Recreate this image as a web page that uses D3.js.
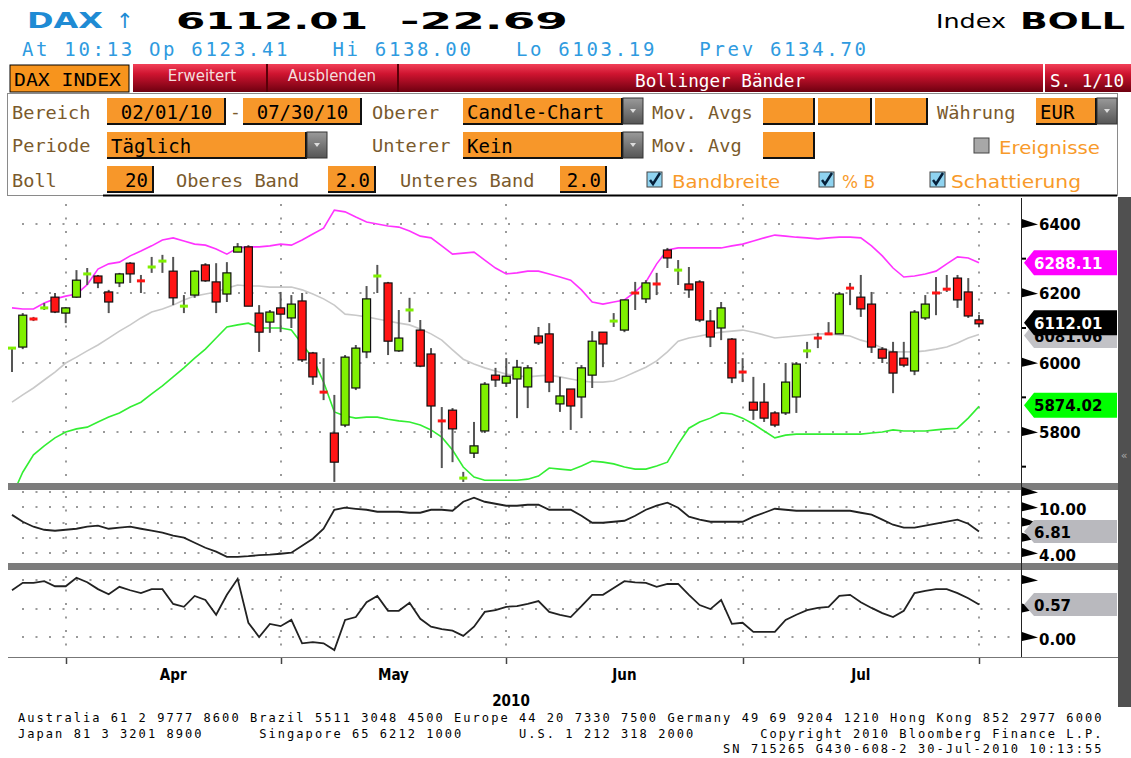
<!DOCTYPE html>
<html lang="de">
<head>
<meta charset="UTF-8">
<title>DAX Index BOLL</title>
<script src="https://d3js.org/d3.v7.min.js"></script>
<style>
    body { margin: 0; background: #ffffff; }
    svg { display: block; }
    text { white-space: pre; }
</style>
</head>
<body>
<svg id="chart" width="1131" height="758"></svg>
<script>
    // trading days 24 Mar - 30 Jul 2010 (Xetra closed on Good Friday / Easter Monday)
    const firstDay = new Date(2010, 2, 24);
    const lastDay = new Date(2010, 6, 30);
    const holidays = ["2010-04-02", "2010-04-05"];

    // daily candles
    const opens = [6041,6045,6128,6156,6189,6143,6189,6255,6250,6204,
        6230,6287,6238,6275,6292,6264,6162,6195,6282,6233,
        6198,6319,6334,6143,6117,6158,6129,6178,6028,5917,
        5797,5820,5927,6031,6249,6230,6034,6151,6094,6025,
        5834,5863,5666,5739,5803,5964,5941,5953,5930,6077,
        6083,5881,5924,5901,5964,6088,6119,6094,6203,6184,
        6229,6325,6266,6227,6233,6120,6100,6068,5975,5886,
        5886,5855,5855,5901,6033,6073,6085,6083,6217,6189,
        6169,6039,6031,6013,5976,6129,6203,6214,6244,6204,
        6123.41];
    const highs = [6045,6143,6132,6172,6201,6160,6267,6273,6253,6210,
        6259,6290,6253,6305,6311,6305,6195,6267,6287,6287,
        6290,6345,6339,6166,6152,6204,6195,6201,6031,6013,
        5907,6022,6051,6221,6282,6233,6152,6187,6123,6042,
        5872,5869,5685,5829,5944,5985,6013,6008,5993,6103,
        6114,5959,5924,5993,6091,6088,6143,6181,6233,6238,
        6259,6331,6296,6276,6238,6152,6175,6071,6013,5959,
        5941,5860,5999,6002,6060,6086,6117,6204,6230,6253,
        6204,6045,6060,6060,6152,6195,6247,6253,6253,6244,
        6138.00];
    const lows = [5973,6039,6120,6152,6143,6114,6187,6224,6215,6143,
        6218,6230,6201,6259,6259,6166,6143,6187,6233,6143,
        6175,6319,6163,6031,6086,6088,6100,6002,5936,5892,
        5656,5814,5921,6013,6201,6022,6031,6117,5987,5783,
        5696,5713,5656,5725,5797,5930,5930,5840,5869,6051,
        5915,5858,5806,5840,5927,5987,6103,6088,6152,6172,
        6195,6273,6224,6187,6117,6045,6065,5941,5944,5835,
        5829,5814,5849,5855,6013,6042,6080,6083,6166,6132,
        6028,5999,5912,5987,5964,6123,6137,6204,6158,6129,
        6103.19];
    const closes = [6043,6137,6124,6160,6146,6158,6238,6257,6230,6175,
        6256,6256,6234,6277,6294,6187,6164,6264,6236,6175,
        6259,6334,6163,6088,6146,6140,6169,6008,5959,5913,
        5713,6016,6042,6184,6251,6062,6071,6153,5990,5875,
        5830,5809,5668,5760,5938,5950,5961,5987,5985,6057,
        5944,5904,5875,5985,6062,6054,6121,6181,6199,6230,
        6225,6302,6268,6210,6123,6074,6158,5956,5971,5863,
        5840,5820,5944,5996,6035,6069,6081,6198,6213,6155,
        6045,6013,5970,5993,6146,6169,6199,6210,6181,6134.70,
        6112.01];

    // Bollinger bands (20, 2.0)
    const upperBand = [6158,6155,6155,6172,6184,6192,6198,6225,6270,6285,
        6290,6308,6322,6337,6354,6360,6351,6342,6339,6328,
        6313,6331,6334,6334,6337,6342,6339,6354,6371,6388,
        6440,6435,6420,6406,6400,6394,6391,6380,6365,6360,
        6337,6313,6316,6319,6296,6273,6256,6259,6264,6264,
        6256,6247,6238,6210,6175,6169,6175,6181,6204,6233,
        6285,6325,6331,6331,6331,6331,6331,6337,6342,6351,
        6360,6368,6365,6362,6360,6357,6360,6362,6362,6360,
        6337,6308,6273,6247,6250,6256,6264,6285,6305,6302,
        6288.11];
    const middleBand = [5886,5907,5927,5950,5973,5999,6016,6034,6051,6071,
        6091,6109,6129,6146,6155,6166,6181,6192,6198,6204,
        6215,6224,6221,6221,6218,6218,6218,6210,6198,6184,
        6166,6140,6137,6132,6126,6120,6114,6109,6097,6083,
        6065,6037,6010,5996,5985,5976,5967,5962,5959,5962,
        5964,5959,5953,5947,5944,5944,5947,5959,5973,5987,
        6005,6031,6062,6071,6077,6083,6088,6091,6094,6088,
        6080,6071,6074,6077,6080,6083,6083,6080,6077,6065,
        6057,6042,6031,6031,6031,6034,6039,6045,6057,6071,
        6081.06];
    const lowerBand = [5615,5684,5734,5760,5783,5800,5809,5814,5829,5843,
        5855,5872,5886,5910,5933,5959,5985,6013,6039,6071,
        6103,6109,6114,6100,6100,6100,6094,6054,6013,5944,
        5858,5846,5840,5843,5843,5837,5832,5829,5820,5806,
        5785,5748,5699,5670,5661,5661,5661,5661,5664,5673,
        5696,5693,5690,5702,5716,5713,5708,5699,5693,5693,
        5702,5713,5765,5811,5829,5840,5855,5852,5840,5823,
        5803,5783,5791,5794,5794,5794,5794,5794,5794,5794,
        5797,5800,5806,5803,5803,5803,5806,5809,5811,5840,
        5874.02];

    // lower panels
    const bandWidth = [9.0,8.1,7.45,7.05,6.92,7.05,7.18,7.45,7.58,7.18,
        7.32,7.45,7.18,6.92,6.66,6.27,6.01,5.35,4.69,4.17,
        3.5,3.5,3.58,3.71,3.78,3.9,4.04,4.96,5.87,7.18,
        9.67,9.94,9.8,9.67,9.41,9.41,9.41,9.28,9.28,9.67,
        9.67,9.54,10.72,11.25,10.72,10.46,10.2,10.2,10.33,10.33,
        9.67,9.67,9.67,8.89,7.97,7.97,8.1,8.23,8.89,9.67,
        10.2,10.59,9.94,8.76,8.37,8.1,8.1,8.1,8.1,8.76,
        9.28,9.8,9.67,9.54,9.54,9.54,9.54,9.54,9.54,9.28,
        9.02,8.37,7.71,7.32,7.32,7.58,7.84,8.1,8.37,7.84,
        6.81];
    const percentB = [0.82,0.95,0.95,0.98,0.89,0.89,1.04,0.96,0.84,0.75,
        0.88,0.82,0.77,0.84,0.84,0.58,0.53,0.72,0.65,0.39,
        0.74,1.02,0.25,0.0,0.23,0.19,0.3,-0.11,-0.09,-0.11,
        -0.23,0.3,0.35,0.61,0.72,0.46,0.46,0.6,0.32,0.18,
        0.14,0.11,0.02,0.18,0.44,0.47,0.53,0.54,0.58,0.63,
        0.44,0.39,0.35,0.54,0.74,0.74,0.86,0.98,0.96,0.95,
        0.88,0.93,0.93,0.74,0.56,0.49,0.65,0.23,0.25,0.09,
        0.09,0.09,0.3,0.39,0.47,0.51,0.53,0.72,0.74,0.61,
        0.51,0.42,0.35,0.46,0.77,0.81,0.84,0.84,0.77,0.68,
        0.57];

    const priceTicks = [5800, 6000, 6200, 6400];
    const priceMinor = [5700, 5900, 6100, 6300];
    const bwTicks = [4, 6, 8, 10, 12];
    const bwLabels = [4, 10];
    const pbTicks = [0, 0.5, 1];
    const pbLabels = [0];
    const monthNames = ["Apr", "May", "Jun", "Jul"];
    const yearLabel = "2010";

    const mono = "'DejaVu Sans Mono', monospace";
    const sans = "'DejaVu Sans', sans-serif";
    const fmtDay = d3.timeFormat("%Y-%m-%d");

    const days = d3.timeDay.range(firstDay, d3.timeDay.offset(lastDay, 1))
        .filter(d => d.getDay() % 6 !== 0 && !holidays.includes(fmtDay(d)));
    const candles = days.map((d, i) => ({
        day: d, o: opens[i], h: highs[i], l: lows[i], c: closes[i]
    }));

    const svg = d3.select("#chart");
    const defs = svg.append("defs");

    // scales
    const x = d3.scalePoint().domain(days).range([12, 979]);
    const yMain = d3.scaleLinear().domain([5800, 6400]).range([432, 224]);
    const yBW = d3.scaleLinear().domain([4, 12]).range([553, 492]);
    const yPB = d3.scaleLinear().domain([0, 1]).range([637, 580]);

    function txt(g, xx, yy, s, o) {
        const t = g.append("text").attr("x", xx).attr("y", yy).text(s)
            .attr("font-family", o.family || mono)
            .attr("font-size", o.size || 18)
            .attr("fill", o.fill || "#000");
        if (o.bold) t.attr("font-weight", "bold");
        if (o.len) t.attr("textLength", o.len).attr("lengthAdjust", o.adjust || "spacingAndGlyphs");
        if (o.anchor) t.attr("text-anchor", o.anchor);
        return t;
    }

    // ---- header ----
    const head = svg.append("g");
    txt(head, 27, 28, "DAX", {family: sans, size: 21, bold: true, fill: "#1f8bd4", len: 76});
    txt(head, 116, 28, "\u2191", {family: sans, size: 21, fill: "#1f8bd4"});
    txt(head, 176, 29, "6112.01", {family: sans, size: 23, bold: true, len: 192});
    txt(head, 400, 29, "-22.69", {family: sans, size: 23, bold: true, len: 168});
    txt(head, 936, 28, "Index", {family: sans, size: 20, len: 70});
    txt(head, 1020, 29, "BOLL", {family: sans, size: 23, bold: true, len: 105});
    txt(head, 22, 56, "At 10:13 Op 6123.41   Hi 6138.00   Lo 6103.19   Prev 6134.70",
        {size: 19, fill: "#2f9be0", len: 844, adjust: "spacing"});

    // ---- tab bar ----
    const red = defs.append("linearGradient").attr("id", "redbar")
        .attr("x1", 0).attr("y1", 0).attr("x2", 0).attr("y2", 1);
    red.append("stop").attr("offset", "0%").attr("stop-color", "#f24058");
    red.append("stop").attr("offset", "35%").attr("stop-color", "#cf1430");
    red.append("stop").attr("offset", "100%").attr("stop-color", "#6e0010");
    const grey = defs.append("linearGradient").attr("id", "btn")
        .attr("x1", 0).attr("y1", 0).attr("x2", 0).attr("y2", 1);
    grey.append("stop").attr("offset", "0%").attr("stop-color", "#9a9a9a");
    grey.append("stop").attr("offset", "100%").attr("stop-color", "#555");

    const tabs = svg.append("g");
    tabs.append("rect").attr("x", 133).attr("y", 64).attr("width", 998).attr("height", 28).attr("fill", "url(#redbar)");
    [267, 398].forEach(v => tabs.append("line").attr("x1", v).attr("x2", v).attr("y1", 64).attr("y2", 92)
        .attr("stroke", "#5a0008").attr("stroke-width", 2));
    tabs.append("line").attr("x1", 1044).attr("x2", 1044).attr("y1", 64).attr("y2", 92)
        .attr("stroke", "#fff").attr("stroke-width", 2);
    tabs.append("rect").attr("x", 10).attr("y", 65).attr("width", 119).attr("height", 27)
        .attr("fill", "#f7941d").attr("stroke", "#000").attr("stroke-width", 1);
    txt(tabs, 14, 86, "DAX INDEX", {size: 18, len: 107});
    txt(tabs, 202, 81, "Erweitert", {family: sans, size: 15, fill: "#f4dede", anchor: "middle"});
    txt(tabs, 332, 81, "Ausblenden", {family: sans, size: 15, fill: "#f4dede", anchor: "middle"});
    txt(tabs, 720, 87, "Bollinger B\u00e4nder", {size: 18, fill: "#fff", anchor: "middle", len: 170});
    txt(tabs, 1050, 87, "S. 1/10", {size: 18, fill: "#fff", len: 74});

    // ---- settings panel ----
    const panel = svg.append("g");
    const labCol = "#7a5a2c";
    const orange = "#f89a2a";
    const boxOrange = "#f7972a";
    panel.append("rect").attr("x", 7.5).attr("y", 93.5).attr("width", 1110).attr("height", 102)
        .attr("fill", "#fff").attr("stroke", "#8a8a8a");
    panel.append("line").attr("x1", 103).attr("x2", 1117).attr("y1", 195.5).attr("y2", 195.5)
        .attr("stroke", "#000").attr("stroke-width", 2);

    function box(bx, by, w, s, align) {
        panel.append("rect").attr("x", bx).attr("y", by).attr("width", w).attr("height", 26).attr("fill", boxOrange);
        panel.append("path").attr("d", `M${bx + w - 1},${by} V${by + 26} H${bx}`)
            .attr("fill", "none").attr("stroke", "#111").attr("stroke-width", 2);
        if (s) {
            if (align === "right") txt(panel, bx + w - 6, by + 21, s, {size: 19, anchor: "end"});
            else if (align === "center") txt(panel, bx + w / 2, by + 21, s, {size: 19, anchor: "middle"});
            else txt(panel, bx + 4, by + 21, s, {size: 19});
        }
    }
    function dropBtn(bx, by) {
        panel.append("rect").attr("x", bx).attr("y", by).attr("width", 20).attr("height", 26)
            .attr("fill", "url(#btn)").attr("stroke", "#333");
        panel.append("path").attr("d", `M${bx + 7},${by + 11} h6 l-3,4 z`).attr("fill", "#ddd");
    }
    function check(bx, by, on) {
        panel.append("rect").attr("x", bx).attr("y", by).attr("width", 15).attr("height", 15)
            .attr("fill", on ? "#8fd3f0" : "#a8a8a8").attr("stroke", "#444");
        if (on) panel.append("path").attr("d", `M${bx + 3},${by + 8} L${bx + 6},${by + 12} L${bx + 13},${by + 1}`)
            .attr("fill", "none").attr("stroke", "#06203a").attr("stroke-width", 2.5);
    }
    const lab = (lx, ly, s) => txt(panel, lx, ly, s, {size: 18.5, fill: labCol, len: s.length * 11.2});

    // row 1
    lab(12, 119, "Bereich");
    box(107, 98, 119, "02/01/10", "center");
    txt(panel, 230, 118, "-", {size: 18, fill: labCol});
    box(243, 98, 119, "07/30/10", "center");
    lab(372, 119, "Oberer");
    box(463, 98, 160, "Candle-Chart");
    dropBtn(623, 98);
    lab(652, 119, "Mov. Avgs");
    box(763, 98, 52); box(818, 98, 54); box(875, 98, 53);
    lab(937, 119, "W\u00e4hrung");
    box(1036, 98, 61, "EUR");
    dropBtn(1097, 98);
    // row 2
    lab(12, 152, "Periode");
    box(107, 132, 200, "T\u00e4glich");
    dropBtn(307, 132);
    lab(372, 152, "Unterer");
    box(463, 132, 160, "Kein");
    dropBtn(623, 132);
    lab(652, 152, "Mov. Avg");
    box(763, 132, 52);
    check(974, 138, false);
    txt(panel, 999, 154, "Ereignisse", {family: sans, size: 18, fill: orange, len: 101});
    // row 3
    lab(12, 187, "Boll");
    box(107, 166, 47, "20", "right");
    lab(176, 187, "Oberes Band");
    box(328, 166, 48, "2.0", "right");
    lab(400, 187, "Unteres Band");
    box(560, 166, 47, "2.0", "right");
    check(647, 172, true);
    txt(panel, 672, 188, "Bandbreite", {family: sans, size: 18, fill: orange, len: 108});
    check(819, 172, true);
    txt(panel, 842, 188, "% B", {family: sans, size: 18, fill: orange, len: 33});
    check(930, 172, true);
    txt(panel, 951, 188, "Schattierung", {family: sans, size: 18, fill: orange, len: 130});

    // ---- chart frame ----
    const chart = svg.append("g");
    chart.append("rect").attr("x", 1118).attr("y", 197).attr("width", 13).attr("height", 510).attr("fill", "#505050");
    txt(chart, 1124, 459, "\u00ab", {family: sans, size: 11, fill: "#aaa", anchor: "middle"});

    defs.append("clipPath").attr("id", "clipMain").append("rect")
        .attr("x", 8).attr("y", 198).attr("width", 1013).attr("height", 285);

    const monthEnds = d3.groups(days, d => d.getMonth()).map(g => g[1][g[1].length - 1]);

    // dotted grids
    const dot = sel => sel.attr("stroke", "#9a9a9a").attr("stroke-width", 2).attr("stroke-dasharray", "2 11.5");
    const gridH = (vals, sc) => vals.forEach(v => dot(chart.append("line")
        .attr("x1", 22).attr("x2", 1020).attr("y1", Math.round(sc(v))).attr("y2", Math.round(sc(v)))));
    gridH(priceTicks, yMain);
    gridH(bwTicks, yBW);
    gridH(pbTicks, yPB);
    [[198, 483], [490, 563], [570, 657]].forEach(([a, b]) =>
        monthEnds.forEach(d => dot(chart.append("line")
            .attr("x1", Math.round(x(d))).attr("x2", Math.round(x(d))).attr("y1", a + 6).attr("y2", b))));

    // bands
    const plot = chart.append("g").attr("clip-path", "url(#clipMain)");
    const bandLine = arr => d3.line().x((d, i) => x(days[i])).y(d => yMain(d))(arr);
    plot.append("path").attr("d", bandLine(middleBand)).attr("fill", "none").attr("stroke", "#c9c9c9").attr("stroke-width", 1.6);
    plot.append("path").attr("d", bandLine(upperBand)).attr("fill", "none").attr("stroke", "#ff33ff").attr("stroke-width", 1.6);
    plot.append("path").attr("d", bandLine(lowerBand)).attr("fill", "none").attr("stroke", "#33ee33").attr("stroke-width", 1.6);

    // candles
    const cg = plot.selectAll("g.candle").data(candles).enter().append("g").attr("class", "candle");
    cg.append("line")
        .attr("x1", d => x(d.day)).attr("x2", d => x(d.day))
        .attr("y1", d => yMain(d.h)).attr("y2", d => yMain(d.l))
        .attr("stroke", "#555").attr("stroke-width", 2);
    cg.each(function (d) {
        const g = d3.select(this);
        const up = d.c >= d.o;
        const col = up ? "#7ff000" : "#ff1414";
        const top = yMain(Math.max(d.o, d.c)), bot = yMain(Math.min(d.o, d.c));
        if (bot - top < 3) {
            g.append("rect").attr("x", x(d.day) - 4).attr("y", (top + bot) / 2 - 1.5)
                .attr("width", 8).attr("height", 3).attr("fill", col);
        } else {
            g.append("rect").attr("x", x(d.day) - 4).attr("y", top)
                .attr("width", 8).attr("height", bot - top).attr("fill", col)
                .attr("stroke", "#111").attr("stroke-width", 1.2);
        }
    });

    // lower panel lines
    const lineOf = sc => d3.line().x((d, i) => x(days[i])).y(d => sc(d));
    chart.append("path").attr("d", lineOf(yBW)(bandWidth)).attr("fill", "none").attr("stroke", "#222").attr("stroke-width", 1.8);
    chart.append("path").attr("d", lineOf(yPB)(percentB)).attr("fill", "none").attr("stroke", "#222").attr("stroke-width", 1.8);

    // separators and frame lines
    chart.append("rect").attr("x", 8).attr("y", 483).attr("width", 1110).attr("height", 7).attr("fill", "#7c7c7c");
    chart.append("rect").attr("x", 8).attr("y", 563).attr("width", 1110).attr("height", 7).attr("fill", "#7c7c7c");
    chart.append("line").attr("x1", 8).attr("x2", 1118).attr("y1", 657.5).attr("y2", 657.5).attr("stroke", "#777");
    chart.append("line").attr("x1", 1021.5).attr("x2", 1021.5).attr("y1", 198).attr("y2", 657).attr("stroke", "#222");

    // right axis
    const axis = svg.append("g");
    const arrow = yy => axis.append("path")
        .attr("d", `M1022,${yy - 5} L1038,${yy + 0.5} L1022,${yy + 4} Z`).attr("fill", "#000");
    const minor = yy => axis.append("line").attr("x1", 1022).attr("x2", 1026)
        .attr("y1", yy).attr("y2", yy).attr("stroke", "#000").attr("stroke-width", 2);
    const axLabel = (yy, s) => txt(axis, 1039, yy + 6, s, {family: sans, size: 15, bold: true});

    priceTicks.forEach(v => { arrow(yMain(v)); axLabel(yMain(v), d3.format("d")(v)); });
    priceMinor.forEach(v => minor(yMain(v)));
    bwTicks.forEach(v => arrow(yBW(v)));
    bwLabels.forEach(v => axLabel(yBW(v) + 2, d3.format(".2f")(v)));
    pbTicks.forEach(v => arrow(yPB(v)));
    pbLabels.forEach(v => axLabel(yPB(v) + 2, d3.format(".2f")(v)));

    // last value tags (the middle band tag sits partly under the close tag, as on the terminal)
    function tag(v, sc, fill, color, h) {
        const cy = sc(v);
        axis.append("path")
            .attr("d", `M1024,${cy} L1034,${cy - h / 2} H1117 V${cy + h / 2} H1034 Z`).attr("fill", fill);
        txt(axis, 1034, cy + 6, v, {family: sans, size: 15, bold: true, fill: color});
    }
    const n = days.length - 1;
    tag(d3.format(".2f")(upperBand[n]), () => yMain(upperBand[n]), "#ff00ff", "#fff", 25);
    tag(d3.format(".2f")(middleBand[n]), () => yMain(middleBand[n]) + 1, "#c2c2c6", "#000", 25);
    tag(d3.format(".2f")(closes[n]), () => yMain(closes[n]) - 1, "#000", "#fff", 25);
    tag(d3.format(".2f")(lowerBand[n]), () => yMain(lowerBand[n]) - 1, "#00ff00", "#000", 25);
    tag(d3.format(".2f")(bandWidth[n]), () => yBW(bandWidth[n]), "#b9b9be", "#000", 23);
    tag(d3.format(".2f")(percentB[n]), () => yPB(percentB[n]), "#b9b9be", "#000", 23);

    // time axis
    const xa = svg.append("g");
    monthEnds.forEach(d => xa.append("line").attr("x1", Math.round(x(d)) + 0.5).attr("x2", Math.round(x(d)) + 0.5)
        .attr("y1", 658).attr("y2", 664).attr("stroke", "#444").attr("stroke-width", 1.5));
    monthNames.forEach((m, i) => {
        const cx = (x(monthEnds[i]) + x(monthEnds[i + 1])) / 2;
        txt(xa, cx, 680, m, {family: "'DejaVu Sans Condensed', " + sans, size: 15, bold: true, anchor: "middle"});
    });
    txt(xa, 511, 706, yearLabel, {family: "'DejaVu Sans Condensed', " + sans, size: 15, bold: true, anchor: "middle"});

    // footer
    const foot = svg.append("g");
    const footLines = [
        "Australia 61 2 9777 8600 Brazil 5511 3048 4500 Europe 44 20 7330 7500 Germany 49 69 9204 1210 Hong Kong 852 2977 6000",
        "Japan 81 3 3201 8900      Singapore 65 6212 1000      U.S. 1 212 318 2000       Copyright 2010 Bloomberg Finance L.P.",
        "                                                                            SN 715265 G430-608-2 30-Jul-2010 10:13:55"
    ];
    footLines.forEach((s, i) => txt(foot, 18, 722 + i * 15.5, s,
        {family: "'DejaVu Sans Mono', monospace", size: 12, len: s.length * 9.26, adjust: "spacing"}));
</script>
</body>
</html>
